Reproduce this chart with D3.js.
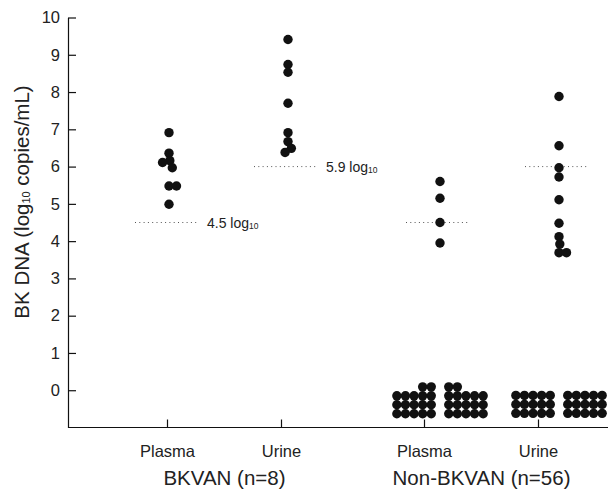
<!DOCTYPE html>
<html>
<head>
<meta charset="utf-8">
<script src="https://cdn.jsdelivr.net/npm/d3@7"></script>
<style>
  body { margin: 0; background: #fff; }
  svg { font-family: 'Liberation Sans', Arial, sans-serif; }
</style>
</head>
<body>
<div id="chart"></div>
<script>
const w = 608;
const h = 491;

// data (log10 copies/mL)
const cohorts = ['BKVAN (n=8)', 'Non-BKVAN (n=56)'];
const sampleTypes = ['Plasma', 'Urine'];
const yTicks = [0, 1, 2, 3, 4, 5, 6, 7, 8, 9, 10];

const bkvanPlasma = [6.91, 6.36, 6.16, 6.11, 5.97, 5.48, 5.48, 4.99];
const bkvanUrine = [9.41, 8.74, 8.53, 7.70, 6.91, 6.67, 6.49, 6.38];
const nonPlasma = [5.60, 5.15, 4.50, 3.95];
const nonUrine = [7.88, 6.56, 5.97, 5.72, 5.11, 4.48, 4.12, 3.92, 3.69, 3.69];

const medians = [4.5, 6.0, 4.5, 6.0];
const medianLabels = ['4.5', '5.9', null, null];

// undetectable samples drawn below zero: [value, count]
const undetNone = [];
const undetPlasma = [[0.09, 4], [-0.15, 10], [-0.39, 10], [-0.63, 10]];
const undetUrine = [[-0.14, 10], [-0.38, 10], [-0.62, 10]];

const panels = [
  { cohort: cohorts[0], type: sampleTypes[0], values: bkvanPlasma, median: medians[0], label: medianLabels[0], undet: undetNone },
  { cohort: cohorts[0], type: sampleTypes[1], values: bkvanUrine, median: medians[1], label: medianLabels[1], undet: undetNone },
  { cohort: cohorts[1], type: sampleTypes[0], values: nonPlasma, median: medians[2], label: medianLabels[2], undet: undetPlasma },
  { cohort: cohorts[1], type: sampleTypes[1], values: nonUrine, median: medians[3], label: medianLabels[3], undet: undetUrine }
];

const r = 4.7;
const minDist = 7.5;

const svg = d3.select('#chart')
  .append('svg')
  .attr('width', w)
  .attr('height', h);

const y = d3.scaleLinear().domain([-1, 10]).range([427.5, 17.5]);

// axis positions of categories
const xOuter = d3.scaleBand().domain(cohorts).range([96, 610]);
const xInner = d3.scalePoint().domain(sampleTypes).range([-57, 57]);
const axisX = (c, t) => xOuter(c) + xOuter.bandwidth() / 2 + xInner(t);

// the dot columns sit a little right of the ticks in the original
const dOuter = d3.scaleBand().domain(cohorts).range([93.5, 635.5]);
const dInner = d3.scalePoint().domain(sampleTypes).range([-60, 59]);
const dataX = (c, t) => dOuter(c) + dOuter.bandwidth() / 2 + dInner(t);

const x0 = 68;

// y axis
svg.append('g')
  .attr('transform', 'translate(' + x0 + ',0)')
  .call(d3.axisLeft(y).tickValues(yTicks).tickSize(-8).tickSizeOuter(0).tickPadding(8))
  .call(g => g.selectAll('text').attr('font-size', 16.5).attr('fill', '#222').attr('font-family', null))
  .call(g => g.selectAll('line, path').attr('stroke', '#111').attr('stroke-width', 1.2));

// x axis
svg.append('line')
  .attr('x1', x0).attr('x2', w)
  .attr('y1', y(-1)).attr('y2', y(-1))
  .attr('stroke', '#111').attr('stroke-width', 1.2);

panels.forEach(p => {
  const xt = axisX(p.cohort, p.type);
  svg.append('line')
    .attr('x1', xt).attr('x2', xt)
    .attr('y1', y(-1)).attr('y2', y(-1) - 8)
    .attr('stroke', '#111').attr('stroke-width', 1.2);
  svg.append('text')
    .attr('x', xt).attr('y', 457)
    .attr('text-anchor', 'middle')
    .attr('font-size', 16.5).attr('fill', '#222')
    .text(p.type);
});

cohorts.forEach(c => {
  svg.append('text')
    .attr('x', (axisX(c, 'Plasma') + axisX(c, 'Urine')) / 2)
    .attr('y', 485)
    .attr('text-anchor', 'middle')
    .attr('font-size', 20.5).attr('fill', '#222')
    .text(c);
});

// y label
const yl = svg.append('text')
  .attr('transform', 'translate(29,' + 202 + ') rotate(-90)')
  .attr('text-anchor', 'middle')
  .attr('font-size', 20.5).attr('fill', '#222');
yl.append('tspan').text('BK DNA (log');
yl.append('tspan').attr('font-size', 11).attr('dy', 1).text('10');
yl.append('tspan').attr('dy', -1).text(' copies/mL)');

// simple dodge so dots with close values sit side by side
function swarm(values) {
  const placed = [];
  values.slice().sort((a, b) => b - a).forEach(v => {
    const py = y(v);
    const near = placed.filter(q => Math.abs(q.y - py) < minDist);
    let cands = [0];
    near.forEach(q => {
      const dx = Math.sqrt(minDist * minDist - (q.y - py) * (q.y - py));
      cands.push(q.dx + dx, q.dx - dx);
    });
    cands.sort((a, b) => Math.abs(a) - Math.abs(b));
    const ok = cands.find(c => near.every(q => Math.hypot(q.dx - c, q.y - py) >= minDist - 0.01));
    placed.push({ v: v, y: py, dx: ok });
  });
  return placed;
}

// undetected grid: each level split into two blocks of five columns
const colStep = 8.6;
const blockGap = 8.75;
function grid(levels) {
  const out = [];
  levels.forEach(([v, n]) => {
    const half = Math.ceil(n / 2);
    const left = half, right = n - half;
    for (let i = 0; i < left; i++) out.push({ v: v, dx: -blockGap - i * colStep });
    for (let i = 0; i < right; i++) out.push({ v: v, dx: blockGap + i * colStep });
  });
  return out;
}

panels.forEach(p => {
  const xc = dataX(p.cohort, p.type);

  // median line
  svg.append('line')
    .attr('x1', xc - 34).attr('x2', xc + 30)
    .attr('y1', y(p.median)).attr('y2', y(p.median))
    .attr('stroke', '#555').attr('stroke-width', 1)
    .attr('stroke-dasharray', '1,3.3');

  if (p.label) {
    const t = svg.append('text')
      .attr('x', xc + 38).attr('y', y(p.median))
      .attr('dy', '0.38em')
      .attr('font-size', 14).attr('fill', '#222');
    t.append('tspan').text(p.label + ' log');
    t.append('tspan').attr('font-size', 8.5).attr('dy', 1).text('10');
  }

  svg.append('g')
    .selectAll('circle')
    .data(swarm(p.values).concat(grid(p.undet)))
    .enter()
    .append('circle')
    .attr('cx', d => xc + d.dx)
    .attr('cy', d => y(d.v))
    .attr('r', r)
    .attr('fill', '#111');
});
</script>
</body>
</html>
